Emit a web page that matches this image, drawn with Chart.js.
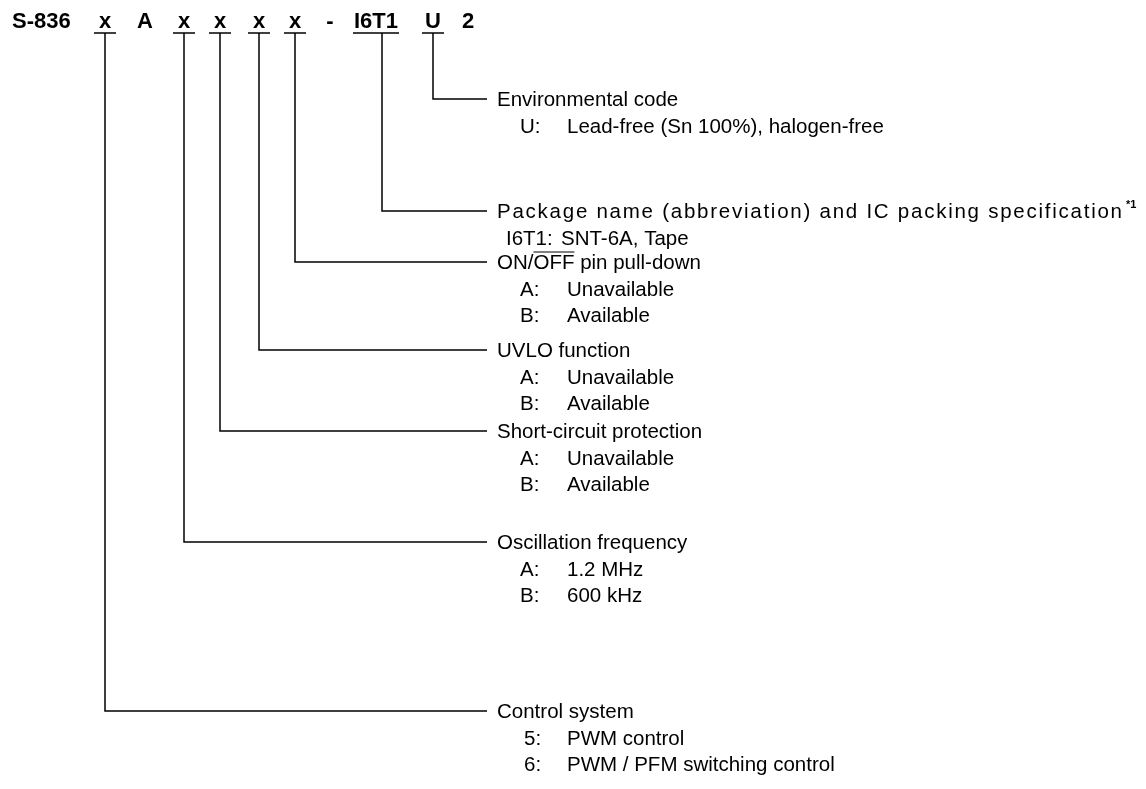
<!DOCTYPE html>
<html>
<head>
<meta charset="utf-8">
<script src="https://cdn.jsdelivr.net/npm/chart.js@4.4.0/dist/chart.umd.min.js"></script>
<style>
html,body{margin:0;padding:0;background:#fff;}
#wrap{width:1146px;height:789px;position:relative;}
</style>
</head>
<body>
<div id="wrap"><canvas id="c"></canvas></div>
<script>
// ---- data ----
const headerTokens = ['S-836', 'x', 'A', 'x', 'x', 'x', 'x', '-', 'I6T1', 'U', '2'];
const headerUnderlined = [false, true, false, true, true, true, true, false, true, true, false];
const sectionTitles = [
  'Environmental code',
  'Package name (abbreviation) and IC packing specification',
  'ON/OFF pin pull-down',
  'UVLO function',
  'Short-circuit protection',
  'Oscillation frequency',
  'Control system'
];
const sectionTokenIndex = [9, 8, 6, 5, 4, 3, 1]; // which header token each section explains
const optionCodes = [
  ['U:'],
  ['I6T1:'],
  ['A:', 'B:'],
  ['A:', 'B:'],
  ['A:', 'B:'],
  ['A:', 'B:'],
  ['5:', '6:']
];
const optionTexts = [
  ['Lead-free (Sn 100%), halogen-free'],
  ['SNT-6A, Tape'],
  ['Unavailable', 'Available'],
  ['Unavailable', 'Available'],
  ['Unavailable', 'Available'],
  ['1.2 MHz', '600 kHz'],
  ['PWM control', 'PWM / PFM switching control']
];

// ---- layout ----
const L = {
  W: 1146, H: 789,
  headerBaseline: 28,
  underlineY: 33,
  tokenX: [12, 105, 145, 184, 220, 259, 295, 330, 376, 433, 468],
  tokenAlign: ['left','center','center','center','center','center','center','center','center','center','center'],
  underlineHalf: [0, 11, 0, 11, 11, 11, 11, 0, 23, 11, 0],
  connectorX: [0, 105, 0, 184, 220, 259, 295, 0, 382, 433, 0],
  sectionY: [99, 211, 262, 350, 431, 542, 711],
  lineEndX: 487,
  titleX: 497,
  titleEnd: [null, 1122, null, null, null, null, null],
  codeX: [520, 506, 520, 520, 520, 520, 524],
  descX: [567, 561, 567, 567, 567, 567, 567],
  optStep: 26.5,
  baseShift: 7,
  bodyFont: '20.5px "Liberation Sans", Arial, sans-serif',
  headFont: 'bold 22px "Liberation Sans", Arial, sans-serif',
  supFont: 'bold 11px "Liberation Sans", Arial, sans-serif'
};

const datasets = sectionTitles.map((t, i) => {
  const cx = L.connectorX[sectionTokenIndex[i]];
  const y = L.sectionY[i];
  return {
    label: t,
    data: [{x: cx, y: L.underlineY}, {x: cx, y: y}, {x: L.lineEndX, y: y}],
    showLine: true,
    borderColor: '#000',
    borderWidth: 1.5,
    pointRadius: 0,
    tension: 0,
    fill: false
  };
});
headerTokens.forEach((tok, i) => {
  if (!headerUnderlined[i]) return;
  const cx = L.tokenX[i], h = L.underlineHalf[i];
  datasets.push({
    label: 'u' + i,
    data: [{x: cx - h, y: L.underlineY}, {x: cx + h, y: L.underlineY}],
    showLine: true, borderColor: '#000', borderWidth: 1.5, pointRadius: 0, fill: false
  });
});

const textPlugin = {
  id: 'texts',
  afterDatasetsDraw(chart) {
    const {ctx, scales: {x, y}} = chart;
    ctx.save();
    ctx.fillStyle = '#000';
    ctx.textBaseline = 'alphabetic';
    ctx.font = L.headFont;
    headerTokens.forEach((tok, i) => {
      ctx.textAlign = L.tokenAlign[i];
      ctx.fillText(tok, x.getPixelForValue(L.tokenX[i]), y.getPixelForValue(L.headerBaseline));
    });
    sectionTitles.forEach((title, i) => {
      const by = y.getPixelForValue(L.sectionY[i]) + L.baseShift;
      const tx = x.getPixelForValue(L.titleX);
      ctx.textAlign = 'left';
      ctx.font = L.bodyFont;
      if (title.startsWith('ON/OFF')) {
        ctx.fillText('ON/', tx, by);
        const w1 = ctx.measureText('ON/').width;
        ctx.fillText('OFF', tx + w1, by);
        const w2 = ctx.measureText('OFF').width;
        ctx.fillText(title.slice(6), tx + w1 + w2, by);
        ctx.beginPath();
        ctx.lineWidth = 1;
        ctx.strokeStyle = '#000';
        ctx.moveTo(tx + w1, by - 17);
        ctx.lineTo(tx + w1 + w2, by - 17);
        ctx.stroke();
      } else if (L.titleEnd[i]) {
        const target = x.getPixelForValue(L.titleEnd[i]) - tx;
        const w0 = ctx.measureText(title).width;
        const sp = (target - w0) / (title.length - 1);
        ctx.letterSpacing = sp.toFixed(2) + 'px';
        ctx.fillText(title, tx, by);
        ctx.letterSpacing = '0px';
        ctx.font = L.supFont;
        ctx.fillText('*1', tx + target + 4, by - 10);
        ctx.font = L.bodyFont;
      } else {
        ctx.fillText(title, tx, by);
      }
      optionCodes[i].forEach((code, j) => {
        const oy = by + L.optStep * (j + 1);
        ctx.fillText(code, x.getPixelForValue(L.codeX[i]), oy);
        ctx.fillText(optionTexts[i][j], x.getPixelForValue(L.descX[i]), oy);
      });
    });
    ctx.restore();
  }
};

new Chart(document.getElementById('c'), {
  type: 'scatter',
  data: {datasets},
  options: {
    responsive: true,
    maintainAspectRatio: false,
    animation: false,
    layout: {padding: 0},
    plugins: {legend: {display: false}, tooltip: {enabled: false}, title: {display: false}},
    scales: {
      x: {type: 'linear', min: 0, max: L.W, display: false},
      y: {type: 'linear', min: 0, max: L.H, reverse: true, display: false}
    },
    elements: {line: {borderCapStyle: 'butt'}}
  },
  plugins: [textPlugin]
});
</script>
</body>
</html>
